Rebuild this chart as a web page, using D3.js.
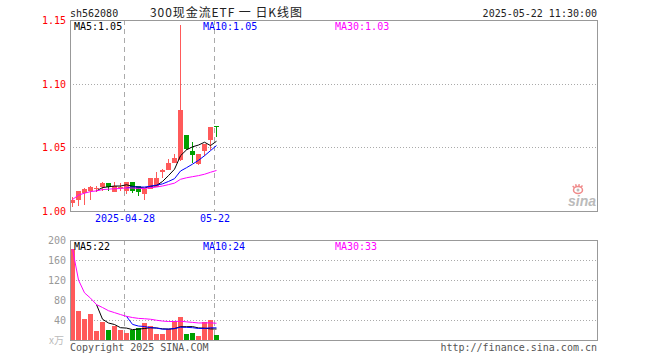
<!DOCTYPE html>
<html>
<head>
<meta charset="utf-8">
<script src="https://cdn.jsdelivr.net/npm/d3@7"></script>
<style>
  body { margin: 0; background: #fff; }
  svg { display: block; }
  text { font-family: "DejaVu Sans Mono", monospace; font-size: 10px; }
</style>
</head>
<body>
<svg id="chart" width="660" height="360"></svg>
<script>
// daily k-line data
var dates = ["2025-04-15", "2025-04-16", "2025-04-17", "2025-04-18", "2025-04-21",
    "2025-04-22", "2025-04-23", "2025-04-24", "2025-04-25", "2025-04-28",
    "2025-04-29", "2025-04-30", "2025-05-06", "2025-05-07", "2025-05-08",
    "2025-05-09", "2025-05-12", "2025-05-13", "2025-05-14", "2025-05-15",
    "2025-05-16", "2025-05-19", "2025-05-20", "2025-05-21", "2025-05-22"];
var opens  = [1.006, 1.009, 1.014, 1.016, 1.018, 1.019, 1.022, 1.015, 1.019, 1.016,
    1.023, 1.020, 1.013, 1.017, 1.019, 1.031, 1.032, 1.038, 1.040, 1.060,
    1.047, 1.037, 1.047, 1.056, 1.067];
var closes = [1.009, 1.016, 1.017, 1.019, 1.018, 1.022, 1.019, 1.020, 1.019, 1.023,
    1.016, 1.015, 1.017, 1.026, 1.026, 1.032, 1.038, 1.042, 1.079, 1.049,
    1.044, 1.045, 1.053, 1.066, 1.066];
var highs  = [1.011, 1.016, 1.018, 1.020, 1.020, 1.023, 1.022, 1.023, 1.022, 1.023,
    1.023, 1.020, 1.017, 1.026, 1.031, 1.033, 1.041, 1.045, 1.146, 1.060,
    1.054, 1.045, 1.053, 1.066, 1.067];
var lows   = [1.003, 1.004, 1.005, 1.009, 1.015, 1.016, 1.016, 1.015, 1.016, 1.013,
    1.014, 1.012, 1.009, 1.017, 1.019, 1.026, 1.032, 1.038, 1.039, 1.048,
    1.038, 1.036, 1.043, 1.048, 1.058];
// volume in 万 shares
var volumes = [182, 58, 43, 52, 19, 36, 20, 28, 20, 15, 21, 25, 34, 28, 12,
    13, 22, 39, 47, 12, 14, 9, 36, 40, 11];

var priceTicks = [1.00, 1.05, 1.10, 1.15];
var volumeTicks = [40, 80, 120, 160, 200];
var dateTicks = ["2025-04-28", "2025-05-22"];
var dateTickLabels = ["2025-04-28", "05-22"];
var maPeriods = [5, 10, 30];
var maColors = ["#000", "#0000ff", "#ff00ff"];

var RED = "#ff5a5a", GREEN = "#00a000", GRID = "#aaa", BORDER = "#999";

var svg = d3.select("#chart");
var left = 70, right = 597;
var main = { top: 20, bottom: 211 }, vol = { top: 240, bottom: 340 };

var x = d3.scaleBand()
    .domain(dates)
    .range([left, left + dates.length * 6 - 1])
    .paddingInner(1 / 6)
    .paddingOuter(0);
var y = d3.scaleLinear().domain([1.00, 1.15]).range([main.bottom, main.top]);
var yv = d3.scaleLinear().domain([0, 200]).range([vol.bottom, vol.top]);

var bw = x.bandwidth();
function cx(d) { return Math.round(x(d)) + Math.floor(bw / 2); }
function up(i) { return closes[i] >= opens[i]; }

// moving average, sina style: MA30 uses what is there, short ones wait for full window
function movingAvg(values, n) {
    return values.map(function (v, i) {
        if (i < n - 1 && n < 30) return null;
        var from = Math.max(0, i - n + 1), s = 0;
        for (var k = from; k <= i; k++) s += values[k];
        return s / (i - from + 1);
    });
}

function drawFrame(pane, yScale, ticks, hasHGrid) {
    var g = svg.append("g");
    // horizontal dotted grid
    g.selectAll(".hgrid")
        .data(ticks.filter(function (t) { return hasHGrid(t); }))
      .enter().append("line")
        .attr("x1", left).attr("x2", right)
        .attr("y1", function (t) { return Math.round(yScale(t)) + 0.5; })
        .attr("y2", function (t) { return Math.round(yScale(t)) + 0.5; })
        .style("stroke", GRID)
        .style("stroke-dasharray", "1,2");
    // vertical dashed grid at date ticks
    g.selectAll(".vgrid")
        .data(dateTicks)
      .enter().append("line")
        .attr("x1", function (d) { return Math.round(x(d)) + 0.5; })
        .attr("x2", function (d) { return Math.round(x(d)) + 0.5; })
        .attr("y1", pane.top).attr("y2", pane.bottom)
        .style("stroke", GRID)
        .style("stroke-dasharray", "5,4");
    return g;
}

function drawBorder(pane) {
    svg.append("rect")
        .attr("x", left + 0.5).attr("y", pane.top + 0.5)
        .attr("width", right - left).attr("height", pane.bottom - pane.top)
        .style("fill", "none")
        .style("stroke", BORDER);
}

function drawMA(values, scale, fmt, pane, labelY) {
    maPeriods.forEach(function (n, j) {
        var ma = movingAvg(values, n);
        var line = d3.line()
            .defined(function (d) { return d !== null; })
            .x(function (d, i) { return cx(dates[i]) + 0.5; })
            .y(function (d) { return scale(d); });
        svg.append("path")
            .datum(ma)
            .attr("d", line)
            .style("fill", "none")
            .style("stroke", maColors[j])
            .style("stroke-width", 1);
        svg.append("text")
            .attr("x", [74, 203, 335][j])
            .attr("y", labelY)
            .style("fill", maColors[j])
            .text("MA" + n + ":" + fmt(ma[ma.length - 1]));
    });
}

// ---------- price pane ----------
drawFrame(main, y, priceTicks, function (t) { return t > 1.00 && t < 1.15; });

svg.selectAll(".ylabel")
    .data(priceTicks)
  .enter().append("text")
    .attr("x", 66)
    .attr("y", function (t) { return y(t) + 4; })
    .attr("text-anchor", "end")
    .style("fill", "#f00")
    .text(function (t) { return t.toFixed(2); });

svg.selectAll(".dlabel")
    .data(dateTicks)
  .enter().append("text")
    .attr("x", function (d) { return Math.round(x(d)) + 1; })
    .attr("y", 222)
    .attr("text-anchor", "middle")
    .style("fill", "#0000ff")
    .text(function (d, i) { return dateTickLabels[i]; });

var candles = svg.append("g").selectAll("g")
    .data(dates)
  .enter().append("g");
candles.append("rect")
    .attr("x", function (d) { return cx(d); })
    .attr("width", 1)
    .attr("y", function (d, i) { return Math.round(y(highs[i])); })
    .attr("height", function (d, i) { return Math.max(1, Math.round(y(lows[i])) - Math.round(y(highs[i]))); })
    .style("fill", function (d, i) { return up(i) ? RED : GREEN; });
candles.append("rect")
    .attr("x", function (d) { return Math.round(x(d)); })
    .attr("width", Math.round(bw))
    .attr("y", function (d, i) { return Math.round(y(Math.max(opens[i], closes[i]))); })
    .attr("height", function (d, i) {
        return Math.max(1, Math.round(y(Math.min(opens[i], closes[i]))) - Math.round(y(Math.max(opens[i], closes[i]))));
    })
    .style("fill", function (d, i) { return up(i) ? RED : GREEN; });

drawMA(closes, y, function (v) { return v.toFixed(2); }, main, 29.5);
drawBorder(main);

// ---------- volume pane ----------
drawFrame(vol, yv, volumeTicks, function (t) { return t < 200; });

svg.selectAll(".vlabel")
    .data(volumeTicks)
  .enter().append("text")
    .attr("x", 66)
    .attr("y", function (t) { return yv(t) + 4; })
    .attr("text-anchor", "end")
    .style("fill", "#999")
    .text(function (t) { return t; });
svg.append("text")
    .attr("x", 64).attr("y", 344)
    .attr("text-anchor", "end")
    .style("fill", "#bbb")
    .style("font-family", "'Noto Sans CJK SC', sans-serif")
    .text("x万");

svg.append("g").selectAll("rect")
    .data(dates)
  .enter().append("rect")
    .attr("x", function (d) { return Math.round(x(d)); })
    .attr("width", Math.round(bw))
    .attr("y", function (d, i) { return Math.round(yv(volumes[i])); })
    .attr("height", function (d, i) { return vol.bottom - Math.round(yv(volumes[i])); })
    .style("fill", function (d, i) { return up(i) ? RED : GREEN; });

drawMA(volumes, yv, function (v) { return Math.round(v); }, vol, 250);
drawBorder(vol);

// ---------- header / footer ----------
svg.append("text").attr("x", 70).attr("y", 17).style("fill", "#222").text("sh562080");
svg.append("text")
    .attr("x", 150).attr("y", 17)
    .attr("textLength", 152)
    .style("fill", "#222")
    .style("font-family", "'Noto Sans CJK SC', sans-serif")
    .style("font-size", "12px")
    .text("300现金流ETF 一 日K线图");
svg.append("text").attr("x", 597).attr("y", 17).attr("text-anchor", "end")
    .style("fill", "#222").text("2025-05-22 11:30:00");
svg.append("text").attr("x", 70).attr("y", 351).style("fill", "#555").text("Copyright 2025 SINA.COM");
svg.append("text").attr("x", 597).attr("y", 351).attr("text-anchor", "end")
    .style("fill", "#555").text("http://finance.sina.com.cn");

// sina watermark
var logo = svg.append("g").attr("transform", "translate(578,190)");
logo.append("ellipse").attr("rx", 4.5).attr("ry", 3.5)
    .style("fill", "none").style("stroke", "#f08a8a").style("stroke-width", 1.5);
logo.append("circle").attr("r", 1.5).style("fill", "#bbb");
[-50, -20, 10, 40].forEach(function (a) {
    var r = a * Math.PI / 180;
    logo.append("line")
        .attr("x1", Math.sin(r) * 4.5).attr("y1", -Math.cos(r) * 3.5)
        .attr("x2", Math.sin(r) * 7).attr("y2", -Math.cos(r) * 6)
        .style("stroke", "#f08a8a").style("stroke-width", 1.5);
});
svg.append("text")
    .attr("x", 582).attr("y", 206)
    .attr("text-anchor", "middle")
    .style("font-family", "'Liberation Sans', sans-serif")
    .style("font-size", "14px")
    .style("font-weight", "bold")
    .style("font-style", "italic")
    .style("fill", "#bbb")
    .text("sina");
</script>
</body>
</html>
